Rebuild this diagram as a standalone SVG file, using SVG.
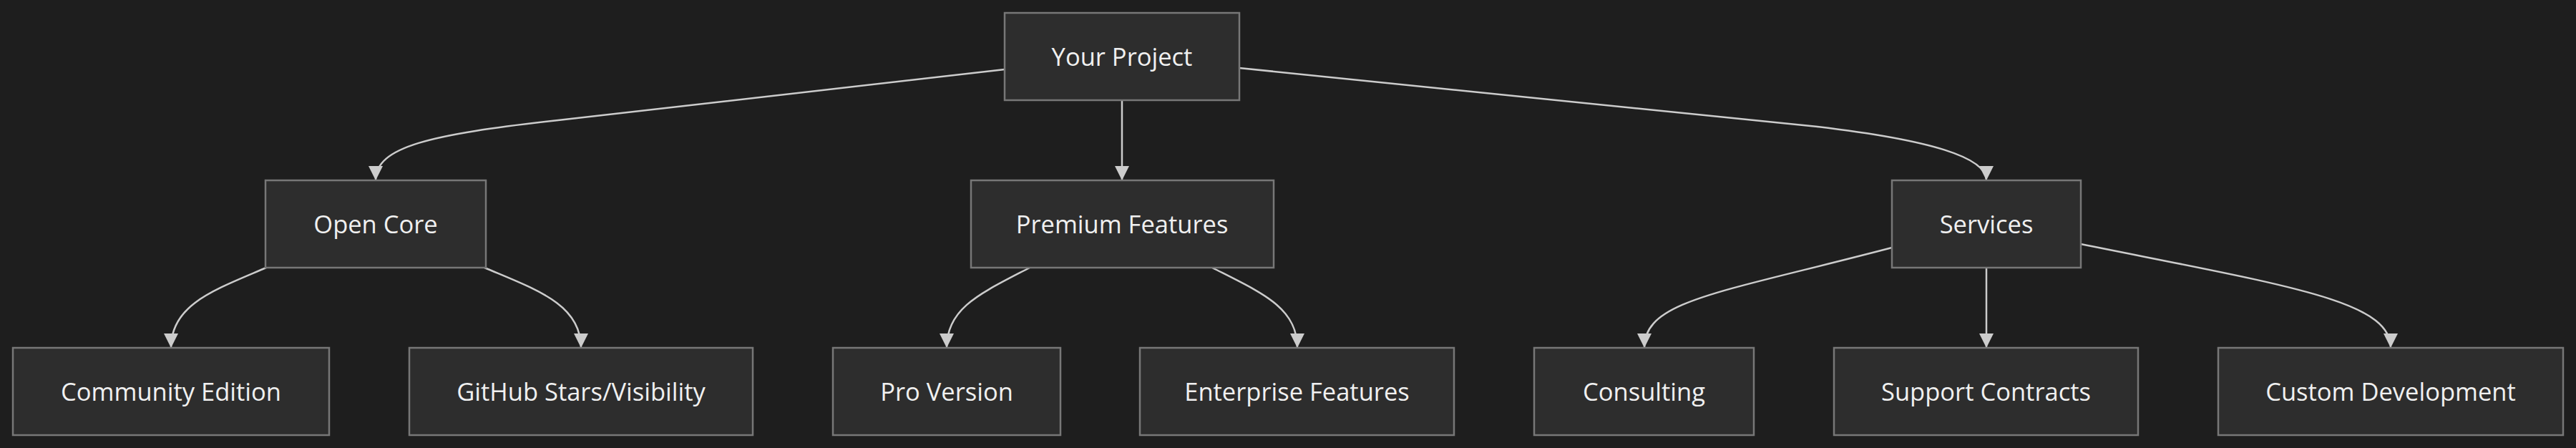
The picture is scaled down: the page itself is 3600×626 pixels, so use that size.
<svg xmlns="http://www.w3.org/2000/svg" width="3600" height="626" viewBox="0 0 3600 626">
<style>
.node rect{fill:#2d2d2d;stroke:#777;stroke-width:2.5}
.node text{fill:#f0f0f0;font-family:"Open Sans","Noto Sans",sans-serif;font-size:34.5px;text-anchor:middle}
.edges path{fill:none;stroke:#cccccc;stroke-width:2.5;marker-end:url(#arr)}
</style>
<defs>
<marker id="arr" markerUnits="userSpaceOnUse" markerWidth="20" markerHeight="20" viewBox="0 0 18 18" refX="18" refY="9" orient="auto">
<path d="M0,0 L18,9 L0,18 Z" fill="#cccccc"/>
</marker>
</defs>
<rect width="3600" height="626" fill="#1e1e1e"/>
<g class="edges">
<path d="M1404,97 L780,168 C600,188 525,205 525,252"/>
<path d="M1568,140 L1568,252"/>
<path d="M1732,95 L2540,177 C2700,196 2776,220 2776,252"/>
<path d="M372,374 C300,405 239,425 239,486"/>
<path d="M677,374 C750,405 812,425 812,486"/>
<path d="M1439,374 C1370,410 1323,430 1323,486"/>
<path d="M1694,374 C1765,410 1813,430 1813,486"/>
<path d="M2644,346 C2400,410 2298,420 2298,486"/>
<path d="M2776,374 L2776,486"/>
<path d="M2908,341 C3200,400 3341,420 3341,486"/>
</g>
<g id="your-project" class="node"><rect x="1404" y="18" width="328" height="122"/><text x="1568" y="92">Your Project</text></g>
<g id="open-core" class="node"><rect x="371" y="252" width="308" height="122"/><text x="525" y="326">Open Core</text></g>
<g id="premium-features" class="node"><rect x="1357" y="252" width="423" height="122"/><text x="1568" y="326">Premium Features</text></g>
<g id="services" class="node"><rect x="2644" y="252" width="264" height="122"/><text x="2776" y="326">Services</text></g>
<g id="community-edition" class="node"><rect x="18" y="486" width="442" height="122"/><text x="239" y="560">Community Edition</text></g>
<g id="github-stars" class="node"><rect x="572" y="486" width="480" height="122"/><text x="812" y="560">GitHub Stars/Visibility</text></g>
<g id="pro-version" class="node"><rect x="1164" y="486" width="318" height="122"/><text x="1323" y="560">Pro Version</text></g>
<g id="enterprise-features" class="node"><rect x="1593" y="486" width="439" height="122"/><text x="1812.5" y="560">Enterprise Features</text></g>
<g id="consulting" class="node"><rect x="2144" y="486" width="307" height="122"/><text x="2297.5" y="560">Consulting</text></g>
<g id="support-contracts" class="node"><rect x="2563" y="486" width="425" height="122"/><text x="2775.5" y="560">Support Contracts</text></g>
<g id="custom-development" class="node"><rect x="3100" y="486" width="482" height="122"/><text x="3341" y="560">Custom Development</text></g>
</svg>
